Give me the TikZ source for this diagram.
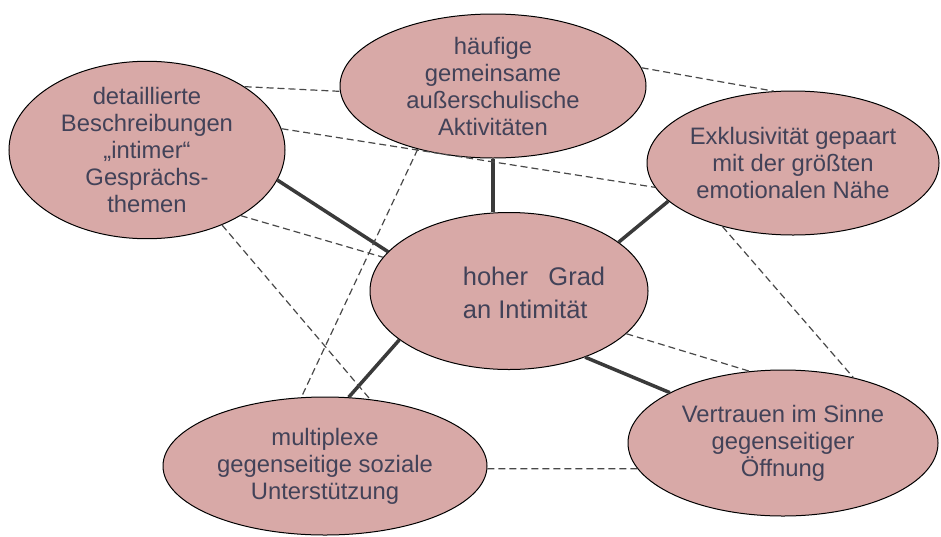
\documentclass[tikz,border=0pt]{standalone}
\usepackage{fontspec}
\setmainfont{Liberation Sans}
\usetikzlibrary{shapes.geometric}
\definecolor{bubblefill}{RGB}{216,169,167}
\definecolor{bubbletext}{RGB}{66,66,88}
\definecolor{strongline}{RGB}{58,58,58}
\definecolor{weakline}{RGB}{72,72,72}
\def\bubblefont{\fontsize{23.8}{27}\selectfont}
\def\centrefont{\fontsize{25.5}{33}\selectfont}

\begin{document}
\begin{tikzpicture}[x=1pt,y=1pt,yscale=-1,xscale=1,
	bubble/.style={ellipse,draw=black,line width=1pt,fill=bubblefill,text=bubbletext,align=center,inner sep=0pt,font=\bubblefont},
	strong/.style={draw=strongline,line width=3.5pt},
	weak/.style={draw=weakline,line width=1.2pt,dash pattern=on 7pt off 4pt}]
	\useasboundingbox (0,0) rectangle (941,536);
	\node [bubble,minimum width=276pt,minimum height=144pt] (beschr) at (147,150) {detaillierte\\Beschreibungen\\„intimer“\\Gesprächs-\\themen};
	\node [bubble,minimum width=306pt,minimum height=144pt] (aktiv) at (493,86) {häufige\\gemeinsame\\außerschulische\\Aktivitäten};
	\node [bubble,minimum width=292pt,minimum height=144pt] (exkl) at (793,163) {Exklusivität gepaart\\mit der größten\\emotionalen Nähe};
	\node [bubble,minimum width=278pt,minimum height=157pt] (grad) at (509,291) {};
	\node [text=bubbletext,font=\centrefont,align=left,inner sep=0pt] (gradtext) at (534,293) {hoher\hspace{0.8em}Grad\\an Intimität};
	\node [bubble,minimum width=324pt,minimum height=138pt] (stuetz) at (325,466) {multiplexe\\gegenseitige soziale\\Unterstützung};
	\node [bubble,minimum width=310pt,minimum height=146pt] (vertr) at (783,443) {Vertrauen im Sinne\\gegenseitiger\\Öffnung};
	% starke Verbindungen zur Mitte
	\draw [strong] (beschr.-13) -- (grad.162);
	\draw [strong] (aktiv.south) -- (aktiv.south |- grad.north);
	\draw [strong] (exkl.-163) -- (grad.24);
	\draw [strong] (grad.-156) -- (stuetz.71);
	\draw [strong] (grad.-41) -- (vertr.156);
	% schwache Verbindungen
	\draw [weak] (beschr.33) -- (aktiv.182);
	\draw [weak] (beschr.9) -- (exkl.190);
	\draw [weak] (aktiv.-140) -- (stuetz.109);
	\draw [weak] (aktiv.7) -- (exkl.105);
	\draw [weak] (beschr.-35) -- (grad.165);
	\draw [weak] (beschr.-45) -- (stuetz.56);
	\draw [weak] (exkl.-138) -- (vertr.43);
	\draw [weak] (grad.-20) -- (vertr.115);
	\draw [weak] (stuetz.-1) -- (vertr.190);
\end{tikzpicture}
\end{document}
